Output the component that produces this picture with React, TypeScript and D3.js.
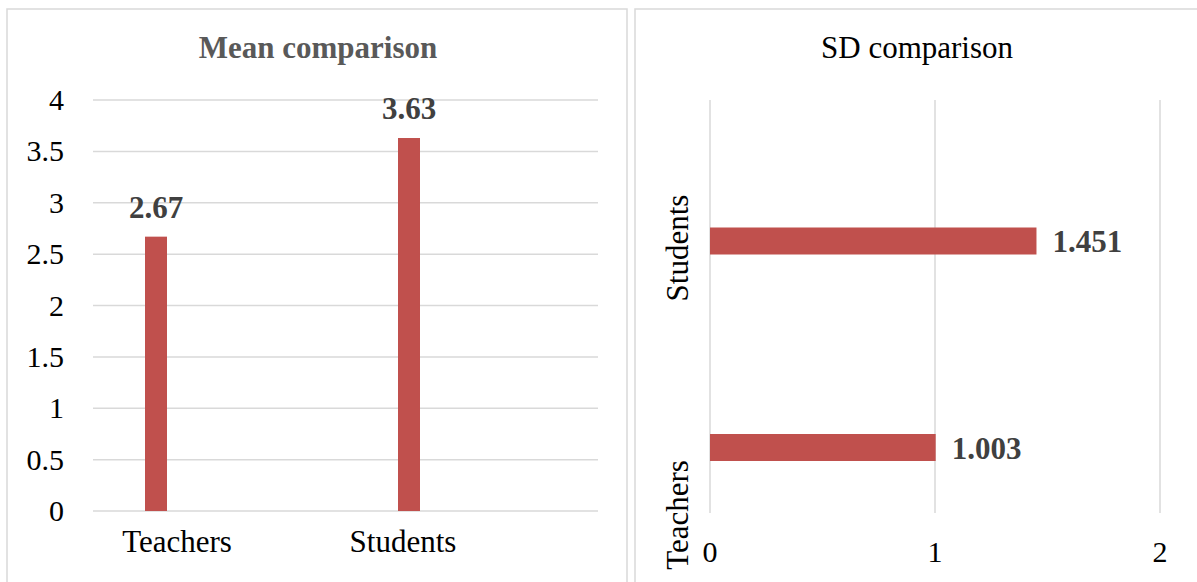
import React from "react";
import * as d3 from "d3";

const categories = ["Teachers", "Students"];
const meanValues = [2.67, 3.63];
const sdValues = [1.003, 1.451];
const meanTicks = [0, 0.5, 1, 1.5, 2, 2.5, 3, 3.5, 4];
const meanTickLabels = ["0", "0.5", "1", "1.5", "2", "2.5", "3", "3.5", "4"];
const sdTicks = [0, 1, 2];
const meanTitle = "Mean comparison";
const sdTitle = "SD comparison";

const BAR = "#c0504d";
const GRID = "#d9d9d9";
const FONT = "'Liberation Serif', 'Times New Roman', serif";
const SX = 1.0;

function T(props: any) {
  const { x, y, children, anchor = "middle", size = 30, weight = "normal", fill = "#000", rotate = 0 } = props;
  return (
    <text
      transform={`translate(${x},${y}) rotate(${rotate}) scale(${SX},1)`}
      textAnchor={anchor}
      fontFamily={FONT}
      fontSize={size}
      fontWeight={weight}
      fill={fill}
    >
      {children}
    </text>
  );
}

export default function App() {
  // Left chart scales
  const yL = d3.scaleLinear().domain([0, 4]).range([511, 100]);
  const barXL = d3.scalePoint<string>().domain(categories).range([156, 409]);
  const labXL = d3.scalePoint<string>().domain(categories).range([177, 403]);
  const barWL = 22;
  const gridL: [number, number] = [93, 598];

  // Right chart scales
  const xR = d3.scaleLinear().domain([0, 2]).range([710, 1160]);
  const barYR = d3.scalePoint<string>().domain(categories).range([447.5, 241]);
  const labYR = d3.scalePoint<string>().domain(categories).range([515, 248]);
  const barHR = 27;

  return (
    <svg width={1197} height={582} style={{ position: "absolute", left: 0, top: 0, background: "#fff" }}>
      <rect x={0} y={0} width={1197} height={582} fill="#fff" />
      {/* panels */}
      <rect x={7} y={9} width={620} height={620} fill="#fff" stroke={GRID} strokeWidth={1.5} />
      <rect x={635} y={9} width={620} height={620} fill="#fff" stroke={GRID} strokeWidth={1.5} />

      {/* ===== Left chart ===== */}
      <T x={318} y={58} size={31} weight="bold" fill="#595959">{meanTitle}</T>
      {meanTicks.map((t, i) => (
        <g key={"gl" + i}>
          <line x1={gridL[0]} x2={gridL[1]} y1={yL(t)} y2={yL(t)} stroke={GRID} strokeWidth={1.5} />
          <T x={64} y={yL(t) + 10} anchor="end" size={30}>{meanTickLabels[i]}</T>
        </g>
      ))}
      {categories.map((c, i) => (
        <g key={"bl" + c}>
          <rect
            x={(barXL(c) as number) - barWL / 2}
            y={yL(meanValues[i])}
            width={barWL}
            height={yL(0) - yL(meanValues[i])}
            fill={BAR}
          />
          <T x={barXL(c)} y={yL(meanValues[i]) - 19} size={31} weight="bold" fill="#404040">
            {meanValues[i].toFixed(2)}
          </T>
          <T x={labXL(c)} y={552} size={31}>{c}</T>
        </g>
      ))}

      {/* ===== Right chart ===== */}
      <T x={917} y={58} size={31}>{sdTitle}</T>
      {sdTicks.map((t) => (
        <g key={"gr" + t}>
          <line x1={xR(t)} x2={xR(t)} y1={100} y2={513} stroke={GRID} strokeWidth={1.5} />
          <T x={xR(t)} y={562} size={30}>{String(t)}</T>
        </g>
      ))}
      {categories.map((c, i) => (
        <g key={"br" + c}>
          <rect
            x={xR(0)}
            y={(barYR(c) as number) - barHR / 2}
            width={xR(sdValues[i]) - xR(0)}
            height={barHR}
            fill={BAR}
          />
          <T x={xR(sdValues[i]) + 16} y={(barYR(c) as number) + 11} anchor="start" size={31} weight="bold" fill="#404040">
            {sdValues[i].toFixed(3)}
          </T>
          <T x={688} y={labYR(c)} rotate={-90} size={31}>{c}</T>
        </g>
      ))}
    </svg>
  );
}
